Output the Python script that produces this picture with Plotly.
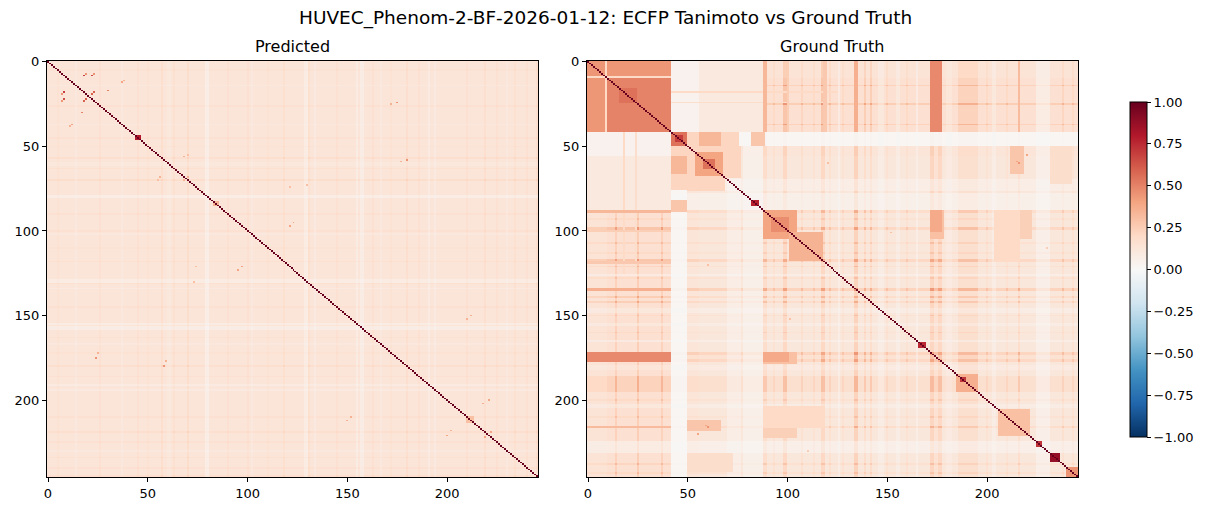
import numpy as np
import plotly.graph_objects as go

N = 246
axis_ticks = [0, 50, 100, 150, 200]
cbar_ticks = [-1.0, -0.75, -0.5, -0.25, 0.0, 0.25, 0.5, 0.75, 1.0]

# matplotlib RdBu_r (ColorBrewer 11-class)
rdbu_r = ['#053061', '#2166ac', '#4393c3', '#92c5de', '#d1e5f0', '#f7f7f7',
          '#fddbc7', '#f4a582', '#d6604d', '#b2182b', '#67001f']

# ---- Predicted: background level, stripe factors (start, end, factor), hot spots
pred_base = 0.13
pred_stripes = [(5, 5, 1.15), (14, 14, 0.8), (26, 26, 1.2), (37, 37, 0.8), (45, 45, 1.2),
                (50, 50, 1.15), (57, 57, 1.3), (60, 61, 0.85), (63, 63, 1.25),
                (70, 70, 1.35), (79, 80, 0.55), (90, 90, 1.2), (100, 100, 1.2),
                (102, 102, 0.8), (110, 110, 1.15), (118, 118, 1.25), (129, 130, 0.65),
                (131, 131, 1.25), (134, 134, 0.75), (145, 145, 1.2), (155, 155, 0.65),
                (157, 158, 0.6), (163, 163, 1.2), (167, 167, 0.8), (172, 172, 1.15),
                (180, 180, 1.3), (186, 186, 1.2), (191, 191, 0.7), (194, 194, 0.75),
                (210, 210, 1.2), (219, 219, 1.3), (225, 225, 1.2), (230, 230, 0.8),
                (234, 234, 1.25), (240, 240, 1.2), (245, 245, 1.3)]
pred_rects = [(44, 46, 44, 46, 0.8), (83, 85, 83, 85, 0.35), (210, 213, 210, 213, 0.3)]
pred_spots = [(18, 8, 0.7), (22, 8, 0.65), (18, 23, 0.6), (22, 19, 0.6), (7, 19, 0.45),
              (7, 23, 0.45), (30, 17, 0.5), (24, 175, 0.45), (58, 180, 0.45),
              (68, 56, 0.35), (68, 70, 0.35), (95, 123, 0.4), (121, 97, 0.4),
              (150, 212, 0.35), (177, 59, 0.35), (210, 152, 0.35), (200, 221, 0.4),
              (218, 202, 0.35), (222, 219, 0.4), (37, 12, 0.4), (11, 38, 0.35),
              (55, 70, 0.3), (73, 130, 0.3), (121, 74, 0.3), (172, 25, 0.35)]

# ---- Ground truth
gt_base = 0.115
gt_stripes = [(0, 9, 1.2), (10, 41, 1.35), (14, 14, 1.5), (25, 25, 1.6), (37, 37, 1.5),
              (42, 49, 0.15), (50, 55, 1.1), (70, 76, 0.6), (78, 87, 0.5),
              (88, 89, 1.6), (93, 93, 1.3), (98, 99, 1.8), (107, 107, 1.4),
              (113, 113, 1.3), (117, 118, 1.8), (121, 121, 1.4), (126, 126, 0.6),
              (128, 128, 1.3), (134, 135, 2.0), (139, 139, 1.6), (142, 142, 1.6),
              (146, 148, 0.7), (150, 150, 1.3), (155, 156, 0.7), (160, 160, 1.3),
              (165, 165, 0.6), (172, 173, 1.9), (174, 175, 1.3), (176, 177, 1.8),
              (180, 182, 0.8), (186, 195, 1.45), (200, 200, 1.3), (203, 204, 0.7),
              (210, 210, 1.3), (216, 216, 1.6), (225, 231, 0.55), (238, 238, 1.4),
              (243, 243, 1.3)]
# (row0, row1, col0, col1, value), mirrored across the diagonal
gt_rects = [(0, 41, 0, 41, 0.44), (10, 41, 10, 41, 0.5), (16, 24, 16, 24, 0.55),
            (9, 9, 0, 41, 0.2),
            (0, 41, 42, 55, 0.04), (0, 41, 56, 87, 0.1), (18, 18, 42, 125, 0.2),
            (24, 24, 42, 125, 0.18),
            (0, 41, 88, 89, 0.33), (0, 41, 100, 100, 0.25), (0, 41, 118, 119, 0.27),
            (0, 41, 134, 135, 0.36),
            (0, 41, 172, 173, 0.5), (0, 41, 174, 175, 0.26), (0, 41, 176, 177, 0.45),
            (0, 41, 216, 216, 0.32),
            (42, 49, 56, 66, 0.3), (42, 49, 82, 88, 0.28),
            (50, 75, 42, 55, 0.22), (56, 66, 42, 49, 0.33), (50, 68, 56, 76, 0.22),
            (54, 67, 54, 67, 0.4), (58, 63, 58, 63, 0.55),
            (50, 66, 212, 218, 0.28), (50, 66, 232, 242, 0.18),
            (88, 104, 172, 178, 0.3), (88, 104, 205, 222, 0.24),
            (172, 177, 0, 41, 0.48), (172, 177, 88, 100, 0.38),
            (204, 216, 88, 118, 0.2), (232, 242, 50, 72, 0.18),
            (88, 104, 88, 104, 0.4), (92, 100, 92, 100, 0.47), (101, 117, 101, 117, 0.35),
            (42, 49, 42, 49, 0.55), (44, 47, 44, 47, 0.7), (82, 85, 82, 85, 0.78),
            (166, 169, 166, 169, 0.75), (185, 195, 185, 195, 0.36),
            (187, 189, 187, 189, 0.72), (206, 221, 206, 221, 0.3),
            (225, 227, 225, 227, 0.72), (232, 236, 232, 236, 0.88),
            (240, 245, 240, 245, 0.45)]
gt_spots = [(55, 220, 0.4), (60, 216, 0.45), (120, 60, 0.3), (215, 59, 0.4),
            (152, 101, 0.3), (110, 230, 0.25)]


def build(base, stripes, rects, spots):
    f = np.ones(N)
    for a, b, k in stripes:
        f[a:b + 1] = f[a:b + 1] * k
    m = base * np.outer(f, f)
    for r0, r1, c0, c1, v in rects:
        m[r0:r1 + 1, c0:c1 + 1] = v
        m[c0:c1 + 1, r0:r1 + 1] = v
    for r, c, v in spots:
        m[r, c] = v
        m[c, r] = v
    np.fill_diagonal(m, 1.0)
    return m


pred = build(pred_base, pred_stripes, pred_rects, pred_spots)
gt = build(gt_base, gt_stripes, gt_rects, gt_spots)
idx = list(range(N))

cs = [[i / 10, c] for i, c in enumerate(rdbu_r)]
font = 'DejaVu Sans'

W, H = 1208, 511


def px(x):
    return x / W


def py(y):
    return 1 - y / H


fig = go.Figure()
fig.add_trace(go.Heatmap(z=pred, x=idx, y=idx, colorscale=cs, zmin=-1, zmax=1,
                         showscale=False, xaxis='x', yaxis='y'))
fig.add_trace(go.Heatmap(z=gt, x=idx, y=idx, colorscale=cs, zmin=-1, zmax=1,
                         xaxis='x2', yaxis='y2',
                         colorbar=dict(x=px(1130), xanchor='left', y=py(269.5),
                                       yanchor='middle', len=335 / H, lenmode='fraction',
                                       xpad=0, ypad=0,
                                       thickness=17, thicknessmode='pixels',
                                       outlinewidth=1, outlinecolor='black',
                                       tickvals=cbar_ticks, tickformat='.2f',
                                       ticks='outside', ticklen=4, tickcolor='black',
                                       tickfont=dict(family=font, size=13, color='black'))))

ax = dict(showline=True, mirror=True, linecolor='black', linewidth=1, ticks='outside',
          ticklen=4, tickcolor='black', showgrid=False, zeroline=False, automargin=False,
          tickvals=axis_ticks, tickfont=dict(family=font, size=13, color='black'))
ydom = [py(477), py(61)]
fig.update_layout(
    width=W, height=H, margin=dict(l=0, r=0, t=0, b=0, pad=0, autoexpand=False),
    paper_bgcolor='white', plot_bgcolor='white',
    xaxis=dict(ax, domain=[px(47), px(538)], range=[-0.5, N - 0.5], anchor='y'),
    yaxis=dict(ax, domain=ydom, range=[N - 0.5, -0.5], anchor='x'),
    xaxis2=dict(ax, domain=[px(587), px(1078)], range=[-0.5, N - 0.5], anchor='y2'),
    yaxis2=dict(ax, domain=ydom, range=[N - 0.5, -0.5], anchor='x2'),
    annotations=[
        dict(text='HUVEC_Phenom-2-BF-2026-01-12: ECFP Tanimoto vs Ground Truth',
             x=px(605), y=py(18), xref='paper', yref='paper', showarrow=False,
             xanchor='center', yanchor='middle', font=dict(family=font, size=18.5, color='black')),
        dict(text='Predicted', x=px(292.5), y=py(46), xref='paper', yref='paper',
             showarrow=False, xanchor='center', yanchor='middle',
             font=dict(family=font, size=16, color='black')),
        dict(text='Ground Truth', x=px(832.5), y=py(46), xref='paper', yref='paper',
             showarrow=False, xanchor='center', yanchor='middle',
             font=dict(family=font, size=16, color='black')),
    ],
)

# drop the default page margin and scrollbars so the figure sits at the window origin
fig.write_html('out.html', config={'displayModeBar': False},
               post_script="document.body.style.margin='0';"
                           "document.body.style.overflow='hidden';")
